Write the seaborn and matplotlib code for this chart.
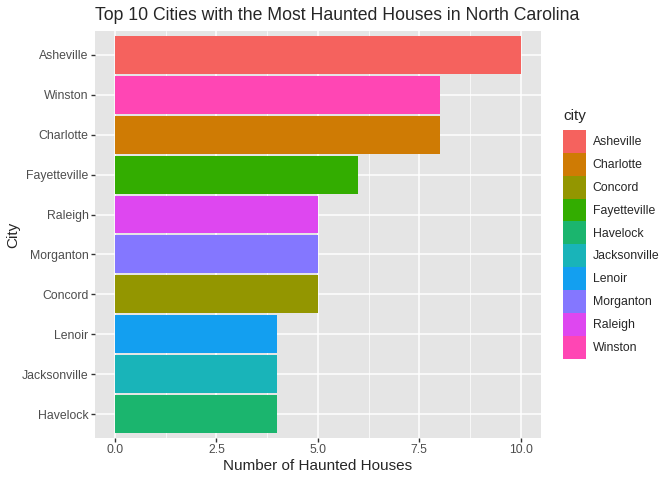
import pandas as pd
import numpy as np
import matplotlib
matplotlib.use("Agg")
import matplotlib.pyplot as plt
import seaborn as sns
from matplotlib.patches import Patch
from matplotlib.ticker import MultipleLocator, FormatStrFormatter

# --- data ---
cities = ["Asheville", "Winston", "Charlotte", "Fayetteville", "Raleigh",
          "Morganton", "Concord", "Lenoir", "Jacksonville", "Havelock"]
counts = [10, 8, 8, 6, 5, 5, 5, 4, 4, 4]

legend_order = ["Asheville", "Charlotte", "Concord", "Fayetteville", "Havelock",
                "Jacksonville", "Lenoir", "Morganton", "Raleigh", "Winston"]
legend_colors = ["#F5625E", "#CF7B04", "#939600", "#33AD00", "#1BB56E",
                 "#19B4B9", "#139FF0", "#8477FF", "#DE47F0", "#FF46B4"]
palette = dict(zip(legend_order, legend_colors))

df = pd.DataFrame({"city": cities, "count": counts})

sns.set_style("darkgrid", {"axes.facecolor": "#E5E5E5", "grid.color": "white"})
plt.rcParams["font.family"] = ["Liberation Sans", "DejaVu Sans"]

fig = plt.figure(figsize=(6.72, 4.8), dpi=100)
ax = fig.add_axes([0.141, 0.0875, 0.664, 0.848])

sns.barplot(data=df, x="count", y="city", hue="city", order=cities,
            hue_order=legend_order, palette=palette, width=0.95,
            dodge=False, legend=False, ax=ax, edgecolor="none", saturation=1)

ax.set_xlim(-0.5, 10.5)
ax.set_ylim(9.6, -0.6)
ax.xaxis.set_major_locator(MultipleLocator(2.5))
ax.xaxis.set_minor_locator(MultipleLocator(1.25))
ax.xaxis.set_major_formatter(FormatStrFormatter("%.1f"))
ax.grid(True, which="major", color="white", linewidth=1.1)
ax.grid(True, which="minor", axis="x", color="white", linewidth=0.5)
ax.set_axisbelow(True)
for s in ax.spines.values():
    s.set_visible(False)

ax.tick_params(axis="both", which="major", length=3, width=1, color="#333333",
               labelsize=8.8, labelcolor="#4D4D4D", pad=1.5,
               bottom=True, left=True)
ax.tick_params(axis="x", which="minor", length=0)
ax.set_xlabel("Number of Haunted Houses", fontsize=11, labelpad=2)
ax.set_ylabel("City", fontsize=11)
ax.yaxis.set_label_coords(-0.168, 0.5)

fig.text(95 / 672, 1 - 16 / 480,
         "Top 10 Cities with the Most Haunted Houses in North Carolina",
         ha="left", va="center", fontsize=12.7)

handles = [Patch(facecolor=palette[c], edgecolor="none", label=c) for c in legend_order]
leg = fig.legend(handles=handles, title="city", loc="upper left",
                 bbox_to_anchor=(563 / 672, 1 - 109 / 480), frameon=False,
                 fontsize=8.8, title_fontsize=11, handlelength=1.88,
                 handleheight=2.5, labelspacing=0, handletextpad=0.55,
                 borderaxespad=0, borderpad=0)
leg._legend_box.align = "left"
leg._legend_box.sep = 5  # gap between legend title and keys

fig.savefig("out.png", dpi=100)
